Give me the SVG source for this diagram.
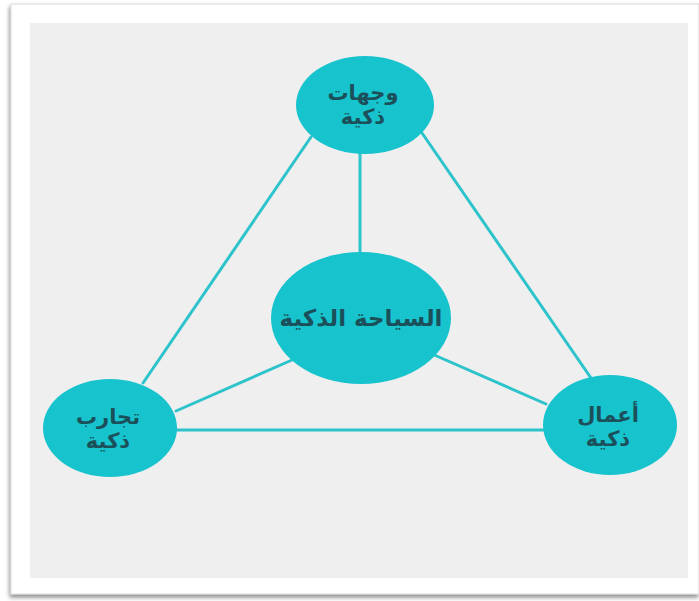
<svg xmlns="http://www.w3.org/2000/svg" width="699" height="601" viewBox="0 0 699 601">
<defs>
<filter id="sh" x="-5%" y="-5%" width="110%" height="110%">
<feDropShadow dx="-1" dy="3" stdDeviation="2" flood-color="#000" flood-opacity="0.45"/>
</filter>
<style>
.node{fill:#17c3cd;}
.conn line{stroke:#2cc3cb;stroke-width:3;stroke-linecap:round;}
.lbl{font-family:"DejaVu Sans",sans-serif;font-weight:bold;fill:#1b4f5a;text-anchor:middle;direction:rtl;}
</style>
</defs>
<rect x="0" y="0" width="699" height="601" fill="#ffffff"/>
<rect x="11" y="4" width="688" height="590" fill="#ffffff" stroke="#d8d8d8" stroke-width="1" filter="url(#sh)"/>
<rect x="30" y="23" width="658" height="555" fill="#efefef"/>
<g id="connectors" class="conn">
<line x1="360" y1="152" x2="360" y2="254"/>
<line x1="311" y1="137" x2="143" y2="383"/>
<line x1="422" y1="133" x2="591" y2="378"/>
<line x1="292" y1="360" x2="176" y2="411"/>
<line x1="432" y1="354" x2="546" y2="404"/>
<line x1="176" y1="430" x2="544" y2="430"/>
</g>
<g id="node-top">
<ellipse class="node" cx="365" cy="105" rx="69" ry="49"/>
<text class="lbl" x="363" y="100" font-size="21">وجهات</text>
<text class="lbl" x="363" y="124" font-size="21">ذكية</text>
</g>
<g id="node-center">
<ellipse class="node" cx="361" cy="318" rx="90" ry="66"/>
<text class="lbl" x="361" y="326" font-size="23">السياحة الذكية</text>
</g>
<g id="node-left">
<ellipse class="node" cx="110" cy="428" rx="67" ry="49"/>
<text class="lbl" x="108" y="424" font-size="21">تجارب</text>
<text class="lbl" x="108" y="448" font-size="21">ذكية</text>
</g>
<g id="node-right">
<ellipse class="node" cx="610" cy="425" rx="67" ry="50"/>
<text class="lbl" x="608" y="422" font-size="21">أعمال</text>
<text class="lbl" x="608" y="446" font-size="21">ذكية</text>
</g>
</svg>
